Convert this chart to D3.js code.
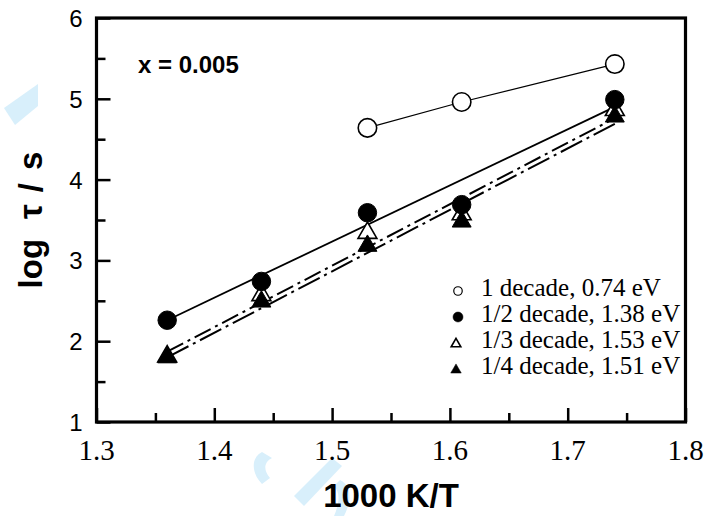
<!DOCTYPE html>
<html>
<head>
<meta charset="utf-8">
<script src="https://cdn.jsdelivr.net/npm/d3@7"></script>
<style>
  body { margin: 0; background: #fff; }
  svg { display: block; }
</style>
</head>
<body>
<div id="chart"></div>
<script>
// Data ----------------------------------------------
const xTicks = [1.3, 1.4, 1.5, 1.6, 1.7, 1.8];
const yTicks = [1, 2, 3, 4, 5, 6];

const oneDecadeX = [1.53, 1.61, 1.74];
const oneDecadeY = [4.64, 4.96, 5.43];

const tempX = [1.36, 1.44, 1.53, 1.61, 1.74];
const halfDecadeY = [2.26, 2.74, 3.59, 3.69, 4.99];
const thirdDecadeY = [1.81, 2.57, 3.34, 3.57, 4.86];
const quarterDecadeY = [1.80, 2.49, 3.18, 3.48, 4.78];

// linear fits (Arrhenius)
const fitHalf = [[1.36, 2.26], [1.74, 4.90]];
const fitThird = [[1.36, 1.87], [1.74, 4.76]];
const fitQuarter = [[1.36, 1.80], [1.74, 4.69]];

const legendLabels = ["1 decade, 0.74 eV", "1/2 decade, 1.38 eV", "1/3 decade, 1.53 eV", "1/4 decade, 1.51 eV"];

// Constants ----------------------------------------------
const width = 704;
const height = 516;
const margin = {left: 96.5, right: 18.5, top: 18, bottom: 94};

const serif = "'Liberation Serif', 'Times New Roman', serif";
const sans = "'Liberation Sans', Arial, sans-serif";

// Scales ----------------------------------------------
const xScale = d3.scaleLinear()
  .domain([1.3, 1.8])
  .range([margin.left, width - margin.right]);

const yScale = d3.scaleLinear()
  .domain([1, 6])
  .range([height - margin.bottom, margin.top]);

const svg = d3.select("#chart")
  .append("svg")
  .attr("width", width)
  .attr("height", height);

// faint watermark pieces
const wm = svg.append("g").attr("fill", "#d8effb");
wm.append("path").attr("d", "M4,108 L38,84 L38,106 L15,125 Z");
wm.append("path").attr("d", "M262,452 C250,458 252,474 262,484 L270,478 C263,470 264,462 272,458 Z");
wm.append("path").attr("d", "M294,496 L332,458 L342,466 L304,506 Z");
wm.append("path").attr("d", "M340,480 C352,486 352,500 344,516 L334,516 C340,502 340,492 334,486 Z");

// Axes ----------------------------------------------
const xAxis = d3.axisBottom(xScale)
  .tickValues(d3.range(1.3, 1.8001, 0.05))
  .tickSize(-14)
  .tickFormat("");
const gx = svg.append("g")
  .attr("transform", `translate(0,${height - margin.bottom})`)
  .call(xAxis);
gx.selectAll(".tick line")
  .attr("y2", (d, i) => i % 2 === 0 ? -14 : -9)
  .attr("stroke-width", 2.5);

const yAxis = d3.axisLeft(yScale)
  .tickValues(d3.range(1, 6.001, 0.5))
  .tickSize(-14)
  .tickFormat("");
const gy = svg.append("g")
  .attr("transform", `translate(${margin.left},0)`)
  .call(yAxis);
gy.selectAll(".tick line")
  .attr("x2", (d, i) => i % 2 === 0 ? 14 : 9)
  .attr("stroke-width", 2.5);

svg.selectAll(".domain").remove();

// frame
svg.append("rect")
  .attr("x", margin.left)
  .attr("y", margin.top)
  .attr("width", width - margin.left - margin.right)
  .attr("height", height - margin.top - margin.bottom)
  .attr("fill", "none")
  .attr("stroke", "#000")
  .attr("stroke-width", 3.2);

// tick labels
svg.append("g")
  .selectAll("text")
  .data(xTicks)
  .join("text")
  .attr("x", d => xScale(d))
  .attr("y", height - margin.bottom + 38)
  .attr("text-anchor", "middle")
  .attr("font-family", serif)
  .attr("font-size", 29)
  .text(d => d.toFixed(1));

svg.append("g")
  .selectAll("text")
  .data(yTicks)
  .join("text")
  .attr("x", margin.left - 14)
  .attr("y", d => yScale(d) + 9)
  .attr("text-anchor", "end")
  .attr("font-family", sans)
  .attr("font-size", 24)
  .text(d => d);

// axis titles
svg.append("text")
  .attr("x", (margin.left + width - margin.right) / 2)
  .attr("y", 507)
  .attr("text-anchor", "middle")
  .attr("font-family", sans)
  .attr("font-weight", "bold")
  .attr("font-size", 33)
  .text("1000 K/T");

// y title: wider gaps between the words, as in the original
const yTitle = svg.append("text")
  .attr("transform", `translate(42,${(margin.top + height - margin.bottom) / 2}) rotate(-90)`)
  .attr("text-anchor", "middle")
  .attr("font-family", sans)
  .attr("font-weight", "bold")
  .attr("font-size", 33);
yTitle.append("tspan").text("log");
yTitle.append("tspan").attr("dx", 20).text("\u03c4");
yTitle.append("tspan").attr("dx", 12).text("/");
yTitle.append("tspan").attr("dx", 13).text("s");

svg.append("text")
  .attr("x", 138)
  .attr("y", 73)
  .attr("font-family", sans)
  .attr("font-weight", "bold")
  .attr("font-size", 24)
  .text("x = 0.005");

// Lines ----------------------------------------------
const line = d3.line()
  .x(d => xScale(d[0]))
  .y(d => yScale(d[1]));

svg.append("path")
  .datum(d3.zip(oneDecadeX, oneDecadeY))
  .attr("d", line)
  .attr("fill", "none")
  .attr("stroke", "#000")
  .attr("stroke-width", 1.2);

svg.append("path")
  .datum(fitHalf)
  .attr("d", line)
  .attr("fill", "none")
  .attr("stroke", "#000")
  .attr("stroke-width", 1.8);

svg.append("path")
  .datum(fitThird)
  .attr("d", line)
  .attr("fill", "none")
  .attr("stroke", "#000")
  .attr("stroke-width", 2)
  .attr("stroke-dasharray", "18,5,3,5");

svg.append("path")
  .datum(fitQuarter)
  .attr("d", line)
  .attr("fill", "none")
  .attr("stroke", "#000")
  .attr("stroke-width", 2)
  .attr("stroke-dasharray", "24,5,3,5");

// Markers ----------------------------------------------
const circle = d3.symbol().type(d3.symbolCircle).size(Math.PI * 85);
const triangle = d3.symbol().type(d3.symbolTriangle).size(155);

function drawMarkers (xs, ys, sym, fill, sw) {
  svg.append("g")
    .selectAll("path")
    .data(d3.zip(xs, ys))
    .join("path")
    .attr("d", sym)
    .attr("transform", d => `translate(${xScale(d[0])},${yScale(d[1])})`)
    .attr("fill", fill)
    .attr("stroke", "#000")
    .attr("stroke-width", sw);
}

drawMarkers(oneDecadeX, oneDecadeY, circle, "#fff", 1.6);
drawMarkers(tempX, thirdDecadeY, triangle, "#fff", 1.6);
drawMarkers(tempX, quarterDecadeY, triangle, "#000", 1);
drawMarkers(tempX, halfDecadeY, circle, "#000", 1);

// Legend ----------------------------------------------
const legendSyms = [
  {sym: d3.symbol().type(d3.symbolCircle).size(Math.PI * 18), fill: "#fff", sw: 1.2},
  {sym: d3.symbol().type(d3.symbolCircle).size(Math.PI * 25), fill: "#000", sw: 0.5},
  {sym: d3.symbol().type(d3.symbolTriangle).size(40), fill: "#fff", sw: 1.6},
  {sym: d3.symbol().type(d3.symbolTriangle).size(48), fill: "#000", sw: 0.5}
];

const legend = svg.append("g")
  .selectAll("g")
  .data(legendLabels)
  .join("g")
  .attr("transform", (d, i) => `translate(0,${296 + i * 26})`);

legend.append("path")
  .attr("d", (d, i) => legendSyms[i].sym())
  .attr("transform", (d, i) => `translate(${i < 2 ? 458 : 456},${i < 2 ? -5 : -4})`)
  .attr("fill", (d, i) => legendSyms[i].fill)
  .attr("stroke", "#000")
  .attr("stroke-width", (d, i) => legendSyms[i].sw);

legend.append("text")
  .attr("x", 481)
  .attr("y", 0)
  .attr("font-family", serif)
  .attr("font-size", 25)
  .text(d => d);
</script>
</body>
</html>
